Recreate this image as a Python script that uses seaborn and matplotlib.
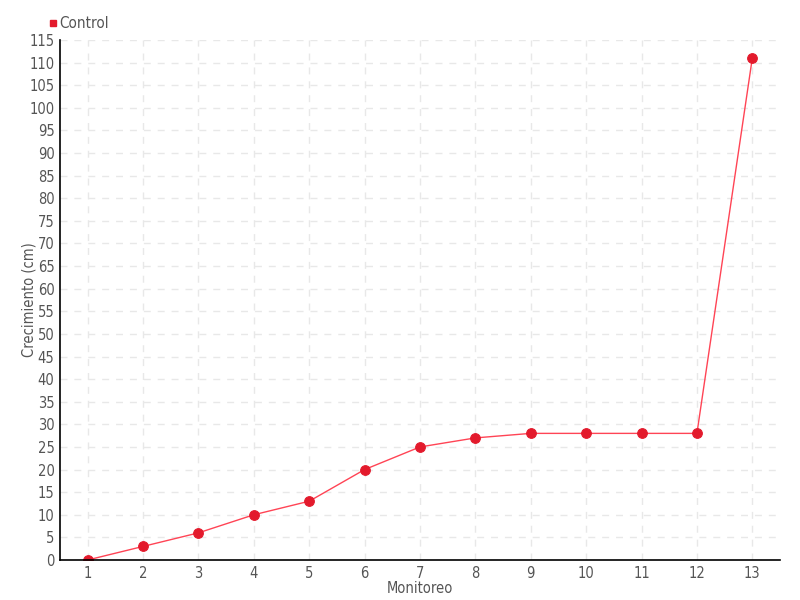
import matplotlib
matplotlib.use('Agg')
import matplotlib.pyplot as plt
import seaborn as sns
import pandas as pd
from matplotlib.lines import Line2D

# datos del monitoreo
monitoreo = [1, 2, 3, 4, 5, 6, 7, 8, 9, 10, 11, 12, 13]
crecimiento = [0, 3, 6, 10, 13, 20, 25, 27, 28, 28, 28, 28, 111]
serie = 'Control'

df = pd.DataFrame({'Monitoreo': monitoreo, 'Crecimiento (cm)': crecimiento})

sns.set_style('white')
plt.rcParams['font.family'] = ['DejaVu Sans']
plt.rcParams['font.stretch'] = 'condensed'

fig = plt.figure(figsize=(8, 6), dpi=100)
ax = fig.add_axes([0.075, 0.0667, 0.9, 0.8666])

sns.lineplot(data=df, x='Monitoreo', y='Crecimiento (cm)', ax=ax,
             color='#ff4455', linewidth=1, marker='o', markersize=7,
             markerfacecolor='#e31a2c', markeredgecolor='#e31a2c')

ax.set_xlim(0.5, 13.5)
ax.set_ylim(0, 115)
ax.set_xticks(monitoreo)
ax.set_yticks(range(0, 116, 5))
ax.grid(True, linestyle=(0, (5, 5)), color='#e8e8e8', linewidth=1)
ax.tick_params(axis='both', direction='inout', length=6, width=1,
               color='black', labelsize=10.5, labelcolor='#555555', pad=1)
for s in ['top', 'right']:
    ax.spines[s].set_visible(False)
for s in ['left', 'bottom']:
    ax.spines[s].set_color('black')
    ax.spines[s].set_linewidth(1.2)

ax.set_xlabel('Monitoreo', fontsize=10.5, color='#555555')
ax.set_ylabel('Crecimiento (cm)', fontsize=10.5, color='#555555')
ax.xaxis.set_label_coords(0.5, -0.040, transform=ax.transAxes)
ax.yaxis.set_label_coords(-0.033, 0.5, transform=ax.transAxes)

handle = Line2D([], [], linestyle='none', marker='s', markersize=5,
                color='#e31a2c')
ax.legend([handle], [serie], loc='lower left', bbox_to_anchor=(-0.025, 1.005),
          frameon=False, fontsize=11, labelcolor='#555555',
          handletextpad=0.1, handlelength=0.6, borderaxespad=0)

fig.savefig('out.png', dpi=100)
